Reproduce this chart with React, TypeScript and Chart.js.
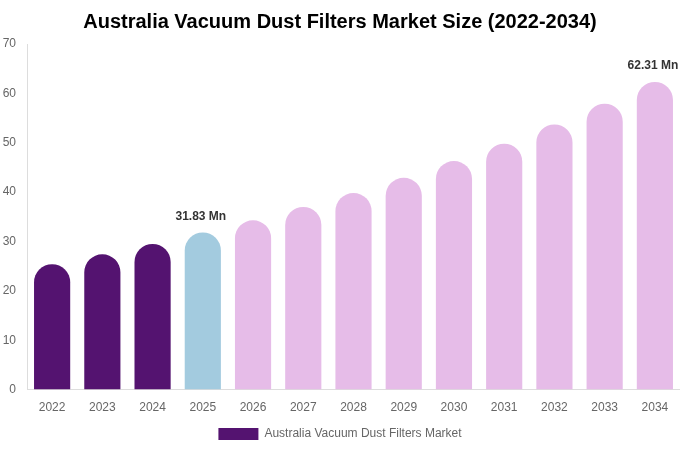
import React, { useEffect, useRef } from "react";
import Chart from "chart.js/auto";

const years = ["2022", "2023", "2024", "2025", "2026", "2027", "2028", "2029", "2030", "2031", "2032", "2033", "2034"];
const marketSize = [25.4, 27.4, 29.5, 31.83, 34.3, 37.0, 39.8, 42.9, 46.3, 49.8, 53.7, 57.9, 62.31];
const barColors = [
  "#541370", "#541370", "#541370", "#a3cbdf",
  "#e6bce8", "#e6bce8", "#e6bce8", "#e6bce8", "#e6bce8",
  "#e6bce8", "#e6bce8", "#e6bce8", "#e6bce8",
];
const valueLabels = ["", "", "", "31.83 Mn", "", "", "", "", "", "", "", "", "62.31 Mn"];
const yTicks = [0, 10, 20, 30, 40, 50, 60, 70];

const FONT = "'Liberation Sans', Arial, sans-serif";

const barLabelPlugin = {
  id: "barLabels",
  afterDatasetsDraw(chart: any) {
    const ctx = chart.ctx;
    const meta = chart.getDatasetMeta(0);
    ctx.save();
    ctx.font = `bold 12px ${FONT}`;
    ctx.fillStyle = "#333333";
    ctx.textAlign = "center";
    ctx.textBaseline = "bottom";
    meta.data.forEach((bar: any, i: number) => {
      if (valueLabels[i]) ctx.fillText(valueLabels[i], bar.x - 2, bar.y - 10);
    });
    ctx.restore();
  },
};

const App: React.FC = () => {
  const chartRef = useRef<HTMLCanvasElement>(null);

  useEffect(() => {
    document.body.style.margin = "0";
    const ctx = chartRef.current!;
    const chart = new Chart(ctx, {
      type: "bar",
      data: {
        labels: years,
        datasets: [
          {
            label: "Australia Vacuum Dust Filters Market",
            data: marketSize,
            backgroundColor: barColors,
            borderRadius: { topLeft: 18, topRight: 18, bottomLeft: 0, bottomRight: 0 },
            borderSkipped: false,
            barPercentage: 0.72,
            categoryPercentage: 1,
          },
        ],
      },
      options: {
        animation: false,
        responsive: true,
        maintainAspectRatio: false,
        layout: { padding: { left: 0, right: 0, top: 0, bottom: 0 } },
        plugins: {
          title: {
            display: true,
            text: "Australia Vacuum Dust Filters Market Size (2022-2034)",
            color: "#000000",
            font: { family: FONT, size: 20, weight: "bold" },
            padding: { top: 10, bottom: 10 },
          },
          legend: {
            position: "bottom",
            labels: {
              color: "#666666",
              font: { family: FONT, size: 12 },
              boxWidth: 40,
              boxHeight: 12,
              generateLabels: () => [
                {
                  text: "Australia Vacuum Dust Filters Market",
                  fillStyle: "#541370",
                  strokeStyle: "#541370",
                  lineWidth: 0,
                  fontColor: "#666666",
                  datasetIndex: 0,
                  hidden: false,
                },
              ],
            },
          },
          tooltip: { enabled: false },
        },
        scales: {
          x: {
            grid: { display: false },
            border: { display: true, color: "#dddddd" },
            ticks: { color: "#666666", font: { family: FONT, size: 12 } },
          },
          y: {
            min: 0,
            max: 70,
            afterBuildTicks: (axis: any) => {
              axis.ticks = yTicks.map((v) => ({ value: v }));
            },
            afterFit: (axis: any) => {
              axis.width = 27;
            },
            grid: { display: false },
            border: { display: true, color: "#dddddd" },
            ticks: { color: "#666666", font: { family: FONT, size: 12 }, padding: 3 },
          },
        },
      },
      plugins: [barLabelPlugin],
    });
    return () => {
      chart.destroy();
    };
  }, []);

  return (
    <div style={{ width: 680, height: 450, position: "relative" }}>
      <canvas ref={chartRef}></canvas>
    </div>
  );
};

export default App;
